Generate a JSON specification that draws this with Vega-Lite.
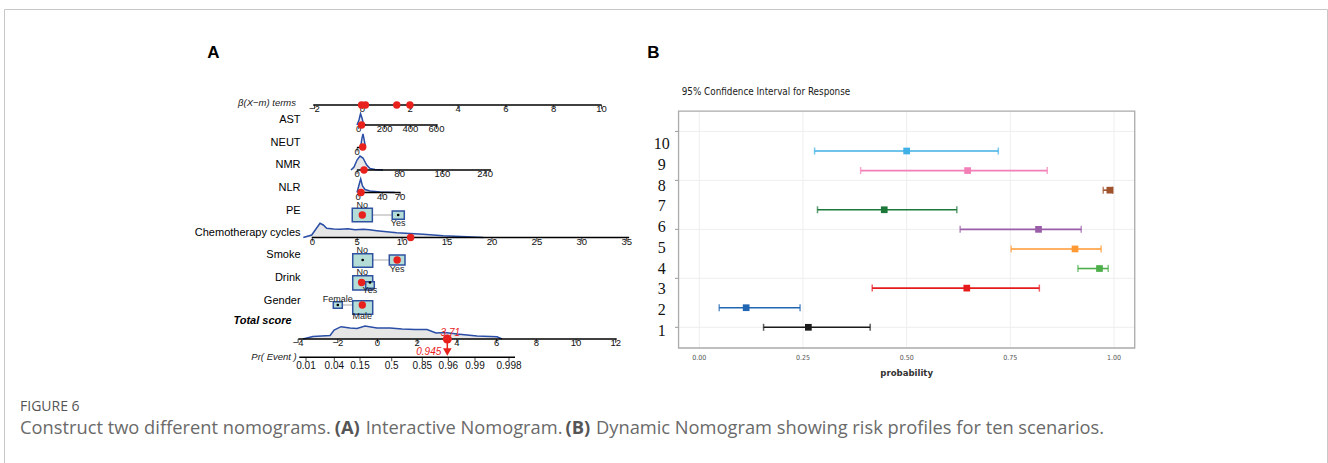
{
"$schema": "https://vega.github.io/schema/vega-lite/v6.json",
"width": 1328, "height": 463,
"autosize": {"type": "fit", "contains": "padding"},
"padding": {"left": 4, "top": 9, "right": 1, "bottom": 0},
"background": "white",
"config": {"view": {"stroke": "#c8c8c8", "strokeWidth": 1}},
"datasets": {
 "axes": [
  {"var":"beta","b":-2.05,"b2":10,"v":0.111},
  {"var":"AST","b":-0.15,"b2":3.15,"v":1},
  {"var":"NEUT","b":-0.22,"b2":-0.05,"v":2},
  {"var":"NMR","b":-0.22,"b2":5.38,"v":3},
  {"var":"NLR","b":-0.17,"b2":1.6,"v":4},
  {"var":"Chemotherapy cycles","b":-2.11,"b2":11.15,"v":6},
  {"var":"Total score","b":-2.675,"b2":10.63,"v":10.511},
  {"var":"Pr","b":-2.633,"b2":6.381,"v":11.324}
 ],
 "ticks": [
  {"var":"beta","label":"−2","b":-2,"v":0.111},
  {"var":"beta","label":"0","b":0,"v":0.111},
  {"var":"beta","label":"2","b":2,"v":0.111},
  {"var":"beta","label":"4","b":4,"v":0.111},
  {"var":"beta","label":"6","b":6,"v":0.111},
  {"var":"beta","label":"8","b":8,"v":0.111},
  {"var":"beta","label":"10","b":10,"v":0.111},
  {"var":"AST","label":"0","b":-0.15,"v":1},
  {"var":"AST","label":"200","b":0.93,"v":1},
  {"var":"AST","label":"400","b":2.01,"v":1},
  {"var":"AST","label":"600","b":3.1,"v":1},
  {"var":"NEUT","label":"0","b":-0.22,"v":2},
  {"var":"NMR","label":"0","b":-0.22,"v":3},
  {"var":"NMR","label":"80","b":1.56,"v":3},
  {"var":"NMR","label":"160","b":3.35,"v":3},
  {"var":"NMR","label":"240","b":5.13,"v":3},
  {"var":"NLR","label":"0","b":-0.17,"v":4},
  {"var":"NLR","label":"40","b":0.83,"v":4},
  {"var":"NLR","label":"70","b":1.58,"v":4},
  {"var":"Chemotherapy cycles","label":"0","b":-2.09,"v":6},
  {"var":"Chemotherapy cycles","label":"5","b":-0.213,"v":6},
  {"var":"Chemotherapy cycles","label":"10","b":1.664,"v":6},
  {"var":"Chemotherapy cycles","label":"15","b":3.541,"v":6},
  {"var":"Chemotherapy cycles","label":"20","b":5.418,"v":6},
  {"var":"Chemotherapy cycles","label":"25","b":7.295,"v":6},
  {"var":"Chemotherapy cycles","label":"30","b":9.172,"v":6},
  {"var":"Chemotherapy cycles","label":"35","b":11.049,"v":6},
  {"var":"Total score","label":"−4","b":-2.683,"v":10.511},
  {"var":"Total score","label":"−2","b":-1.024,"v":10.511},
  {"var":"Total score","label":"0","b":0.635,"v":10.511},
  {"var":"Total score","label":"2","b":2.294,"v":10.511},
  {"var":"Total score","label":"4","b":3.953,"v":10.511},
  {"var":"Total score","label":"6","b":5.612,"v":10.511},
  {"var":"Total score","label":"8","b":7.271,"v":10.511},
  {"var":"Total score","label":"10","b":8.93,"v":10.511},
  {"var":"Total score","label":"12","b":10.589,"v":10.511},
  {"var":"Pr","label":"0.01","b":-2.353,"v":11.324},
  {"var":"Pr","label":"0.04","b":-1.17,"v":11.324},
  {"var":"Pr","label":"0.15","b":-0.096,"v":11.324},
  {"var":"Pr","label":"0.5","b":1.229,"v":11.324},
  {"var":"Pr","label":"0.85","b":2.507,"v":11.324},
  {"var":"Pr","label":"0.96","b":3.594,"v":11.324},
  {"var":"Pr","label":"0.99","b":4.71,"v":11.324},
  {"var":"Pr","label":"0.998","b":6.13,"v":11.324}
 ],
 "names": [
  {"name":"β(X−m) terms","b":-2.77,"v":0},
  {"name":"AST","b":-2.58,"v":0.778},
  {"name":"NEUT","b":-2.58,"v":1.787},
  {"name":"NMR","b":-2.58,"v":2.778},
  {"name":"NLR","b":-2.58,"v":3.813},
  {"name":"PE","b":-2.58,"v":4.809},
  {"name":"Chemotherapy cycles","b":-2.58,"v":5.787},
  {"name":"Smoke","b":-2.58,"v":6.778},
  {"name":"Drink","b":-2.58,"v":7.787},
  {"name":"Gender","b":-2.58,"v":8.822},
  {"name":"Total score","b":-2.95,"v":9.698},
  {"name":"Pr( Event )","b":-2.74,"v":11.298}
 ],
 "dens": [
  {"var":"AST","b":-0.221,"v":1.0,"v0":1},
  {"var":"AST","b":-0.138,"v":0.778,"v0":1},
  {"var":"AST","b":-0.075,"v":0.5,"v0":1},
  {"var":"AST","b":-0.013,"v":0.689,"v0":1},
  {"var":"AST","b":0.05,"v":0.956,"v0":1},
  {"var":"AST","b":0.155,"v":1.0,"v0":1},
  {"var":"NEUT","b":-0.075,"v":2.0,"v0":2},
  {"var":"NEUT","b":-0.013,"v":1.58,"v0":2},
  {"var":"NEUT","b":0.029,"v":1.4,"v0":2},
  {"var":"NEUT","b":0.071,"v":1.62,"v0":2},
  {"var":"NEUT","b":0.134,"v":2.0,"v0":2},
  {"var":"NMR","b":-0.472,"v":3.0,"v0":3},
  {"var":"NMR","b":-0.347,"v":2.867,"v0":3},
  {"var":"NMR","b":-0.221,"v":2.556,"v0":3},
  {"var":"NMR","b":-0.096,"v":2.378,"v0":3},
  {"var":"NMR","b":0.029,"v":2.467,"v0":3},
  {"var":"NMR","b":0.184,"v":2.778,"v0":3},
  {"var":"NMR","b":0.322,"v":2.933,"v0":3},
  {"var":"NMR","b":0.531,"v":2.978,"v0":3},
  {"var":"NMR","b":0.865,"v":3.0,"v0":3},
  {"var":"NLR","b":-0.221,"v":4.0,"v0":4},
  {"var":"NLR","b":-0.138,"v":3.667,"v0":4},
  {"var":"NLR","b":-0.067,"v":3.4,"v0":4},
  {"var":"NLR","b":0.008,"v":3.711,"v0":4},
  {"var":"NLR","b":0.113,"v":3.867,"v0":4},
  {"var":"NLR","b":0.322,"v":3.933,"v0":4},
  {"var":"NLR","b":0.74,"v":3.978,"v0":4},
  {"var":"NLR","b":1.366,"v":4.0,"v0":4},
  {"var":"Chemo","b":-2.466,"v":6.0,"v0":6},
  {"var":"Chemo","b":-2.115,"v":5.889,"v0":6},
  {"var":"Chemo","b":-1.768,"v":5.369,"v0":6},
  {"var":"Chemo","b":-1.63,"v":5.444,"v0":6},
  {"var":"Chemo","b":-1.488,"v":5.591,"v0":6},
  {"var":"Chemo","b":-1.2,"v":5.62,"v0":6},
  {"var":"Chemo","b":-0.932,"v":5.636,"v0":6},
  {"var":"Chemo","b":-0.6,"v":5.615,"v0":6},
  {"var":"Chemo","b":-0.3,"v":5.65,"v0":6},
  {"var":"Chemo","b":0.042,"v":5.636,"v0":6},
  {"var":"Chemo","b":0.3,"v":5.66,"v0":6},
  {"var":"Chemo","b":0.602,"v":5.698,"v0":6},
  {"var":"Chemo","b":1.438,"v":5.787,"v0":6},
  {"var":"Chemo","b":2.549,"v":5.858,"v0":6},
  {"var":"Chemo","b":3.385,"v":5.92,"v0":6},
  {"var":"Chemo","b":4.363,"v":5.964,"v0":6},
  {"var":"Chemo","b":5.056,"v":6.0,"v0":6},
  {"var":"Total","b":-2.478,"v":10.511,"v0":10.511},
  {"var":"Total","b":-2.06,"v":10.4,"v0":10.511},
  {"var":"Total","b":-1.346,"v":10.356,"v0":10.511},
  {"var":"Total","b":-1.178,"v":10.111,"v0":10.511},
  {"var":"Total","b":-0.89,"v":9.964,"v0":10.511},
  {"var":"Total","b":-0.514,"v":10.022,"v0":10.511},
  {"var":"Total","b":-0.221,"v":10.044,"v0":10.511},
  {"var":"Total","b":0.113,"v":9.933,"v0":10.511},
  {"var":"Total","b":0.614,"v":10.022,"v0":10.511},
  {"var":"Total","b":1.157,"v":10.022,"v0":10.511},
  {"var":"Total","b":1.659,"v":10.067,"v0":10.511},
  {"var":"Total","b":2.202,"v":10.089,"v0":10.511},
  {"var":"Total","b":2.704,"v":10.089,"v0":10.511},
  {"var":"Total","b":3.08,"v":10.244,"v0":10.511},
  {"var":"Total","b":3.456,"v":10.222,"v0":10.511},
  {"var":"Total","b":3.958,"v":10.289,"v0":10.511},
  {"var":"Total","b":4.794,"v":10.378,"v0":10.511},
  {"var":"Total","b":5.629,"v":10.409,"v0":10.511},
  {"var":"Total","b":5.838,"v":10.511,"v0":10.511}
 ],
 "boxes": [
  {"var":"PE","level":"No","b":-0.42,"b2":0.42,"v":4.7,"v2":5.3},
  {"var":"PE","level":"Yes","b":1.25,"b2":1.755,"v":4.82,"v2":5.19},
  {"var":"Smoke","level":"No","b":-0.4,"b2":0.435,"v":6.72,"v2":7.32},
  {"var":"Smoke","level":"Yes","b":1.128,"b2":1.784,"v":6.78,"v2":7.22},
  {"var":"Drink","level":"No","b":-0.4,"b2":0.435,"v":7.7,"v2":8.33},
  {"var":"Drink","level":"Yes","b":0.142,"b2":0.501,"v":7.97,"v2":8.25},
  {"var":"Gender","level":"Female","b":-1.212,"b2":-0.836,"v":8.853,"v2":9.147},
  {"var":"Gender","level":"Male","b":-0.4,"b2":0.435,"v":8.81,"v2":9.41}
 ],
 "links": [
  {"var":"PE","b":0.42,"b2":1.25,"v":5.0},
  {"var":"Smoke","b":0.435,"b2":1.128,"v":7.0},
  {"var":"Gender","b":-0.836,"b2":-0.4,"v":9.0}
 ],
 "refdots": [
  {"var":"PE","b":1.5,"v":5.0},
  {"var":"Smoke","b":0.017,"v":7.0},
  {"var":"Drink","b":0.32,"v":8.0},
  {"var":"Gender","b":-1.024,"v":9.0}
 ],
 "seldots": [
  {"var":"beta","b":-0.03,"v":0.111},
  {"var":"beta","b":0.13,"v":0.111},
  {"var":"beta","b":1.44,"v":0.111},
  {"var":"beta","b":1.99,"v":0.111},
  {"var":"AST","b":-0.03,"v":1.0},
  {"var":"NEUT","b":0.017,"v":1.98},
  {"var":"NMR","b":0.071,"v":3.0},
  {"var":"NLR","b":-0.054,"v":4.0},
  {"var":"PE","b":0.0,"v":5.0},
  {"var":"Chemotherapy cycles","b":2.02,"v":6.0},
  {"var":"Smoke","b":1.456,"v":7.0},
  {"var":"Drink","b":-0.03,"v":8.0},
  {"var":"Gender","b":0.0,"v":9.0}
 ],
 "catlabels": [
  {"label":"No","b":0.0,"v":4.55},
  {"label":"Yes","b":1.5,"v":5.369},
  {"label":"No","b":0.0,"v":6.556},
  {"label":"Yes","b":1.456,"v":7.413},
  {"label":"No","b":0.0,"v":7.547},
  {"label":"Yes","b":0.32,"v":8.333},
  {"label":"Female","b":-1.024,"v":8.747},
  {"label":"Male","b":0.0,"v":9.489}
 ],
 "result": [
  {"score":"3.71","prob":"0.945","b":3.552,"v":10.511,"v2":11.0,"vt":11.09}
 ],
 "caption": [
  {"t":"Construct two different nomograms.","b":-14.304,"v":14.511},
  {"t":"(A)","b":-1.153,"v":14.511},
  {"t":"Interactive Nomogram.","b":0.142,"v":14.511},
  {"t":"(B)","b":8.496,"v":14.511},
  {"t":"Dynamic Nomogram showing risk profiles for ten scenarios.","b":9.766,"v":14.511}
 ],
 "ci": [
  {"scenario":1,"lower":0.155,"prob":0.263,"upper":0.412},
  {"scenario":2,"lower":0.048,"prob":0.113,"upper":0.243},
  {"scenario":3,"lower":0.417,"prob":0.645,"upper":0.82},
  {"scenario":4,"lower":0.913,"prob":0.965,"upper":0.986},
  {"scenario":5,"lower":0.752,"prob":0.906,"upper":0.969},
  {"scenario":6,"lower":0.629,"prob":0.818,"upper":0.921},
  {"scenario":7,"lower":0.285,"prob":0.446,"upper":0.621},
  {"scenario":8,"lower":0.974,"prob":0.99,"upper":0.997},
  {"scenario":9,"lower":0.389,"prob":0.647,"upper":0.839},
  {"scenario":10,"lower":0.278,"prob":0.5,"upper":0.721}
 ],
 "bgridh": [
  {"s":1,"p":-0.05,"p2":1.05},{"s":3.5,"p":-0.05,"p2":1.05},{"s":6,"p":-0.05,"p2":1.05},{"s":8.5,"p":-0.05,"p2":1.05},{"s":11,"p":-0.05,"p2":1.05}
 ],
 "bgridv": [
  {"p":0,"s":-0.057,"s2":12.04},{"p":0.25,"s":-0.057,"s2":12.04},{"p":0.5,"s":-0.057,"s2":12.04},{"p":0.75,"s":-0.057,"s2":12.04},{"p":1,"s":-0.057,"s2":12.04}
 ],
 "bticks": [
  {"s":1,"p":-0.0585,"p2":-0.05},{"s":3.5,"p":-0.0585,"p2":-0.05},{"s":6,"p":-0.0585,"p2":-0.05},{"s":8.5,"p":-0.0585,"p2":-0.05},{"s":11,"p":-0.0585,"p2":-0.05}
 ],
 "bframe": [{"p":-0.05,"p2":1.05,"s":-0.057,"s2":12.04}],
 "xlabs": [
  {"p":0,"s":-0.582,"label":"0.00"},{"p":0.25,"s":-0.582,"label":"0.25"},{"p":0.5,"s":-0.582,"label":"0.50"},{"p":0.75,"s":-0.582,"label":"0.75"},{"p":1,"s":-0.582,"label":"1.00"}
 ],
 "scen": [{"scenario":1},{"scenario":2},{"scenario":3},{"scenario":4},{"scenario":5},{"scenario":6},{"scenario":7},{"scenario":8},{"scenario":9},{"scenario":10}]
},
"layer": [
 {
  "encoding": {
   "x": {"field":"b","type":"quantitative","scale":{"domain":[-14.973,40.313],"nice":false,"zero":false},"axis":null},
   "y": {"field":"v","type":"quantitative","scale":{"domain":[-4.1556,16.0222],"nice":false,"zero":false,"reverse":true},"axis":null}
  },
  "layer": [
   {"data":{"name":"dens"},"mark":{"type":"area","fill":"#e6e6e6","opacity":1,"line":{"color":"#2a4ea6","strokeWidth":1.5}},
    "encoding":{"y2":{"field":"v0"},"detail":{"field":"var"}}},
   {"data":{"name":"axes"},"mark":{"type":"rule","color":"#000000","strokeWidth":1.5},
    "encoding":{"x2":{"field":"b2"}}},
   {"data":{"name":"ticks"},"mark":{"type":"tick","orient":"vertical","size":4,"thickness":1,"color":"#000000","yOffset":2},"encoding":{}},
   {"data":{"name":"ticks"},"transform":[{"filter":"datum.var !== 'Pr'"}],
    "mark":{"type":"text","font":"Liberation Sans, Arial, sans-serif","fontSize":9.5,"color":"#111111","align":"center","baseline":"middle","dy":4.3},
    "encoding":{"text":{"field":"label"}}},
   {"data":{"name":"ticks"},"transform":[{"filter":"datum.var === 'Pr'"}],
    "mark":{"type":"text","font":"Liberation Sans, Arial, sans-serif","fontSize":10,"color":"#111111","align":"center","baseline":"middle","dy":9},
    "encoding":{"text":{"field":"label"}}},
   {"data":{"name":"links"},"mark":{"type":"rule","color":"#aaaaaa","strokeWidth":1},
    "encoding":{"x2":{"field":"b2"}}},
   {"data":{"name":"boxes"},"mark":{"type":"rect","fill":"#b4ddd8","stroke":"#2f52a0","strokeWidth":1.5},
    "encoding":{"x2":{"field":"b2"},"y2":{"field":"v2"}}},
   {"data":{"name":"refdots"},"mark":{"type":"circle","color":"#000000","size":7,"opacity":1},"encoding":{}},
   {"data":{"name":"result"},"mark":{"type":"rule","color":"#e8211d","strokeWidth":1.5},
    "encoding":{"y2":{"field":"v2"}}},
   {"data":{"name":"seldots"},"mark":{"type":"circle","color":"#e8211d","size":55,"opacity":1},"encoding":{}},
   {"data":{"name":"result"},"mark":{"type":"circle","color":"#e8211d","size":80,"opacity":1},"encoding":{}},
   {"data":{"name":"result"},"mark":{"type":"point","shape":"triangle-down","filled":true,"color":"#e8211d","size":75,"opacity":1},
    "encoding":{"y":{"field":"vt","type":"quantitative"}}},
   {"data":{"name":"result"},"mark":{"type":"text","font":"Liberation Sans, Arial, sans-serif","fontSize":10,"fontStyle":"italic","color":"#e8211d","align":"center","baseline":"middle","dx":3,"dy":-6},
    "encoding":{"text":{"field":"score"}}},
   {"data":{"name":"result"},"mark":{"type":"text","font":"Liberation Sans, Arial, sans-serif","fontSize":10,"fontStyle":"italic","color":"#e8211d","align":"right","baseline":"middle","dx":-6},
    "encoding":{"y":{"field":"vt","type":"quantitative"},"text":{"field":"prob"}}},
   {"data":{"name":"names"},"transform":[{"filter":{"not":{"field":"name","oneOf":["β(X−m) terms","Total score","Pr( Event )"]}}}],
    "mark":{"type":"text","font":"Liberation Sans, Arial, sans-serif","fontSize":11,"color":"#000000","align":"right","baseline":"middle"},
    "encoding":{"text":{"field":"name"}}},
   {"data":{"name":"names"},"transform":[{"filter":{"field":"name","oneOf":["β(X−m) terms","Pr( Event )"]}}],
    "mark":{"type":"text","font":"Liberation Sans, Arial, sans-serif","fontSize":9.5,"fontStyle":"italic","color":"#222222","align":"right","baseline":"middle"},
    "encoding":{"text":{"field":"name"}}},
   {"data":{"name":"names"},"transform":[{"filter":{"field":"name","equal":"Total score"}}],
    "mark":{"type":"text","font":"Liberation Sans, Arial, sans-serif","fontSize":11,"fontStyle":"italic","fontWeight":"bold","color":"#000000","align":"right","baseline":"middle"},
    "encoding":{"text":{"field":"name"}}},
   {"data":{"name":"catlabels"},"mark":{"type":"text","font":"Liberation Sans, Arial, sans-serif","fontSize":9,"color":"#222222","align":"center","baseline":"middle"},
    "encoding":{"text":{"field":"label"}}},
   {"data":{"values":[{"t":"A","b":-6.226,"v":-2.187}]},"mark":{"type":"text","font":"Liberation Sans, Arial, sans-serif","fontSize":17,"fontWeight":"bold","color":"#000000","align":"center","baseline":"middle"},
    "encoding":{"text":{"field":"t"}}},
   {"data":{"values":[{"t":"FIGURE 6","b":-14.304,"v":13.533}]},"mark":{"type":"text","font":"Open Sans, sans-serif","fontSize":14,"color":"#555555","align":"left","baseline":"middle"},
    "encoding":{"text":{"field":"t"}}},
   {"data":{"name":"caption"},"transform":[{"filter":{"not":{"field":"t","oneOf":["(A)","(B)"]}}}],
    "mark":{"type":"text","font":"Open Sans, sans-serif","fontSize":18.3,"color":"#6a6a6a","align":"left","baseline":"middle"},
    "encoding":{"text":{"field":"t"}}},
   {"data":{"name":"caption"},"transform":[{"filter":{"field":"t","oneOf":["(A)","(B)"]}}],
    "mark":{"type":"text","font":"Open Sans, sans-serif","fontSize":18.3,"fontWeight":"bold","color":"#555555","align":"left","baseline":"middle"},
    "encoding":{"text":{"field":"t"}}}
  ]
 },
 {
  "encoding": {
   "x": {"field":"p","type":"quantitative","scale":{"domain":[-1.67663,1.51362],"nice":false,"zero":false},"axis":null},
   "y": {"field":"s","type":"quantitative","scale":{"domain":[-5.927,17.248],"nice":false,"zero":false},"axis":null}
  },
  "layer": [
   {"data":{"name":"bgridh"},"mark":{"type":"rule","color":"#eeeeee","strokeWidth":1},
    "encoding":{"x2":{"field":"p2"}}},
   {"data":{"name":"bgridv"},"mark":{"type":"rule","color":"#eeeeee","strokeWidth":1},
    "encoding":{"y2":{"field":"s2"}}},
   {"data":{"name":"bticks"},"mark":{"type":"rule","color":"#999999","strokeWidth":1},
    "encoding":{"x2":{"field":"p2"}}},
   {"data":{"name":"bframe"},"mark":{"type":"rect","fill":"#ffffff","fillOpacity":0,"stroke":"#aaaaaa","strokeWidth":1.3},
    "encoding":{"x2":{"field":"p2"},"y2":{"field":"s2"}}},
   {"data":{"name":"ci"},"mark":{"type":"rule","strokeWidth":1.6},
    "encoding":{"x":{"field":"lower","type":"quantitative"},"x2":{"field":"upper"},"y":{"field":"scenario","type":"quantitative"},
     "color":{"field":"scenario","type":"nominal","legend":null,"scale":{"domain":[1,2,3,4,5,6,7,8,9,10],"range":["#1a1a1a","#2166b3","#e41a1c","#4daf4a","#ff9933","#9a5ea8","#1b7838","#a0522d","#f37fb7","#3fb1e6"]}}}},
   {"data":{"name":"ci"},"mark":{"type":"tick","orient":"vertical","size":7,"thickness":1.5},
    "encoding":{"x":{"field":"lower","type":"quantitative"},"y":{"field":"scenario","type":"quantitative"},"color":{"field":"scenario","type":"nominal","legend":null}}},
   {"data":{"name":"ci"},"mark":{"type":"tick","orient":"vertical","size":7,"thickness":1.5},
    "encoding":{"x":{"field":"upper","type":"quantitative"},"y":{"field":"scenario","type":"quantitative"},"color":{"field":"scenario","type":"nominal","legend":null}}},
   {"data":{"name":"ci"},"mark":{"type":"point","shape":"square","filled":true,"size":45,"opacity":1},
    "encoding":{"x":{"field":"prob","type":"quantitative"},"y":{"field":"scenario","type":"quantitative"},"color":{"field":"scenario","type":"nominal","legend":null}}},
   {"data":{"name":"xlabs"},"mark":{"type":"text","font":"Liberation Sans Narrow, DejaVu Sans Condensed, sans-serif","fontSize":7,"color":"#555555","align":"center","baseline":"middle"},
    "encoding":{"text":{"field":"label"}}},
   {"data":{"values":[{"t":"probability","p":0.5,"s":-1.318}]},"mark":{"type":"text","font":"Liberation Sans Narrow, DejaVu Sans Condensed, sans-serif","fontSize":9.5,"fontWeight":"bold","color":"#333333","align":"center","baseline":"middle"},
    "encoding":{"text":{"field":"t"}}},
   {"data":{"values":[{"t":"95% Confidence Interval for Response","p":-0.0424,"s":13.03}]},"mark":{"type":"text","font":"Liberation Sans Narrow, DejaVu Sans Condensed, sans-serif","fontSize":9.8,"color":"#1a1a1a","align":"left","baseline":"middle"},
    "encoding":{"text":{"field":"t"}}},
   {"data":{"values":[{"t":"B","p":-0.1109,"s":14.997}]},"mark":{"type":"text","font":"Liberation Sans, Arial, sans-serif","fontSize":17,"fontWeight":"bold","color":"#000000","align":"center","baseline":"middle"},
    "encoding":{"text":{"field":"t"}}}
  ]
 },
 {
  "data": {"name":"scen"},
  "mark": {"type":"text","font":"Liberation Serif, Times New Roman, serif","fontSize":16,"color":"#111111","align":"center","baseline":"middle"},
  "encoding": {
   "x": {"datum":-0.0907,"type":"quantitative","scale":{"domain":[-1.67663,1.51362],"nice":false,"zero":false},"axis":null},
   "y": {"field":"scenario","type":"quantitative","scale":{"domain":[-5.352,16.496],"nice":false,"zero":false},"axis":null},
   "text": {"field":"scenario"}
  }
 }
],
"resolve": {"scale": {"x":"independent","y":"independent","color":"independent"}}
}
